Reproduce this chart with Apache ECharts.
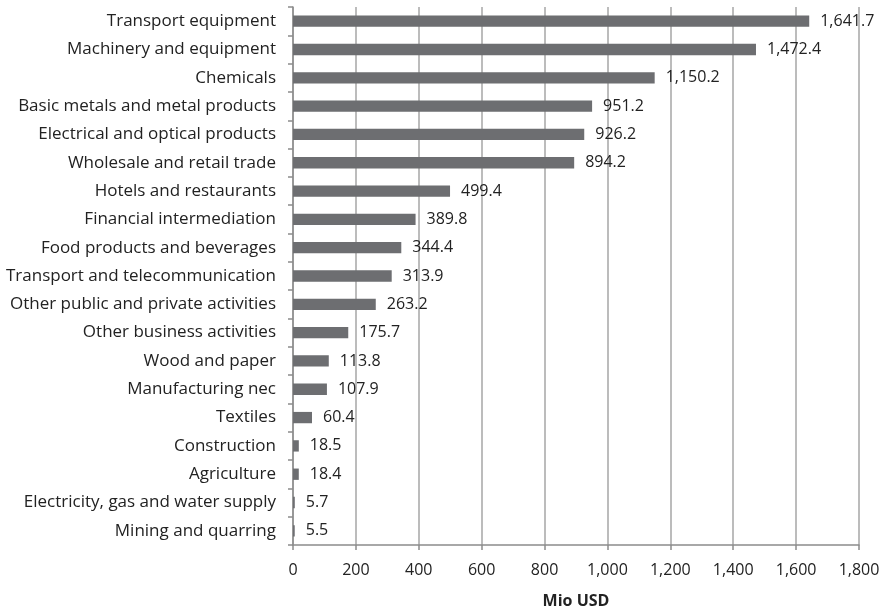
<!DOCTYPE html>
<html>
<head>
<meta charset="utf-8">
<script src="https://cdn.jsdelivr.net/npm/echarts@6/dist/echarts.min.js"></script>
<style>
  html, body { margin: 0; padding: 0; background: #ffffff; }
  #chart { width: 885px; height: 614px; }
</style>
</head>
<body>
<div id="chart"></div>
<script>
// Industries, listed top to bottom
const industries = [
  "Transport equipment",
  "Machinery and equipment",
  "Chemicals",
  "Basic metals and metal products",
  "Electrical and optical products",
  "Wholesale and retail trade",
  "Hotels and restaurants",
  "Financial intermediation",
  "Food products and beverages",
  "Transport and telecommunication",
  "Other public and private activities",
  "Other business activities",
  "Wood and paper",
  "Manufacturing nec",
  "Textiles",
  "Construction",
  "Agriculture",
  "Electricity, gas and water supply",
  "Mining and quarring"
];

// Values in Mio USD, same order
const values = [
  1641.7, 1472.4, 1150.2, 951.2, 926.2, 894.2, 499.4, 389.8, 344.4,
  313.9, 263.2, 175.7, 113.8, 107.9, 60.4, 18.5, 18.4, 5.7, 5.5
];

const xTicks = { min: 0, max: 1800, step: 200 };
const axisTitle = "Mio USD";

const fmt = v => v.toLocaleString("en-US", { minimumFractionDigits: 1, maximumFractionDigits: 1 });
const fmtTick = v => v.toLocaleString("en-US");

const FONT = "Open Sans";
const chart = echarts.init(document.getElementById("chart"));

chart.setOption({
  animation: false,
  grid: { left: 293, right: 26, top: 7, bottom: 65, containLabel: false },
  xAxis: {
    type: "value",
    min: xTicks.min,
    max: xTicks.max,
    interval: xTicks.step,
    name: axisTitle,
    nameLocation: "middle",
    nameGap: 48,
    nameTextStyle: { fontFamily: FONT, fontSize: 16, fontWeight: "bold", color: "#222" },
    axisLine: { show: true, lineStyle: { color: "#8c8c8c", width: 1.5 } },
    axisTick: { show: true, length: 5, lineStyle: { color: "#8c8c8c", width: 1.5 } },
    axisLabel: { fontFamily: FONT, fontSize: 16, color: "#222", margin: 17, formatter: fmtTick },
    splitLine: { show: true, lineStyle: { color: "#a6a6a6", width: 1.5 } }
  },
  yAxis: {
    type: "category",
    data: industries,
    inverse: true,
    axisLine: { show: true, lineStyle: { color: "#8c8c8c", width: 1.5 } },
    axisTick: { show: true, length: 5, alignWithLabel: false, lineStyle: { color: "#8c8c8c", width: 1.5 } },
    axisLabel: { fontFamily: FONT, fontSize: 17, color: "#222", margin: 17 },
    splitLine: { show: false }
  },
  series: [{
    type: "bar",
    data: values,
    barWidth: "40%",
    itemStyle: { color: "#6d6e71" },
    label: {
      show: true,
      position: "right",
      distance: 11,
      fontFamily: FONT,
      fontSize: 16,
      color: "#222",
      formatter: p => fmt(p.value)
    }
  }]
});
</script>
</body>
</html>
